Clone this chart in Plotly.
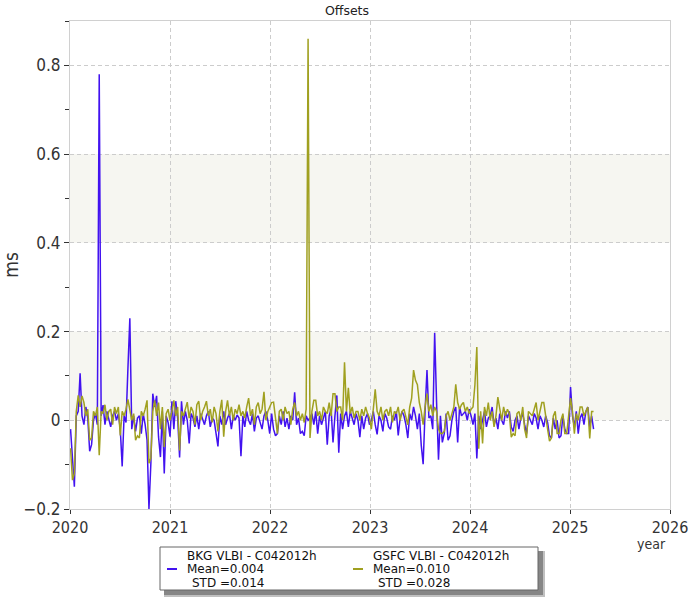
import pandas as pd
import plotly.graph_objects as go

# Session epochs (weekly sampling of the series), as decimal years
dates = pd.date_range("2020-01-03", periods=274, freq="7D")
years = [d.year + (d.dayofyear - 1) / (366 if d.is_leap_year else 365) for d in dates]

series_names = ["BKG VLBI - C042012h", "GSFC VLBI - C042012h"]
series_means = ["0.004", "0.010"]
series_stds = ["0.014", "0.028"]

bkg = [
    -0.02, -0.075, -0.15, 0.01, 0.02, 0.106, 0.01, -0.01, 0.03, 0.005,
    -0.07, -0.055, 0.0, 0.015, -0.01, 0.78, 0.01, 0.034, -0.01, 0.02,
    0.005, -0.015, 0.01, 0.02, 0.0, 0.015, -0.02, -0.104, 0.01, -0.005,
    0.117, 0.23, -0.02, 0.01, -0.025, 0.005, 0.01, -0.03, 0.015, -0.01,
    -0.045, -0.2, -0.097, 0.06, 0.03, 0.055, -0.037, -0.083, 0.02, -0.12,
    0.01, -0.005, -0.037, 0.043, -0.02, 0.043, 0.005, -0.084, 0.043, -0.01,
    0.02, 0.0, -0.052, 0.015, 0.005, -0.015, 0.01, -0.02, 0.015, 0.0,
    -0.01, 0.01, 0.02, -0.015, 0.005, 0.0, -0.03, -0.059, 0.01, -0.01,
    0.02, -0.01, 0.005, 0.015, -0.02, 0.01, 0.0, 0.012, 0.005, -0.081,
    0.01, -0.015, 0.02, 0.0, -0.01, 0.015, -0.025, 0.005, 0.01, -0.005,
    -0.02, 0.01, 0.02, 0.0, -0.03, 0.015, -0.02, -0.035, -0.03, 0.01,
    -0.01, 0.02, -0.015, 0.005, -0.02, 0.01, 0.0, 0.063, -0.01, 0.005,
    -0.03, -0.025, -0.035, 0.01, 0.0, 0.005, 0.015, -0.01, 0.02, -0.03,
    0.01, -0.01, 0.005, 0.02, -0.055, 0.01, 0.025, -0.05, 0.01, 0.056,
    -0.073, 0.015, -0.02, 0.01, 0.02, -0.015, 0.02, 0.005, -0.01, 0.015,
    0.0, -0.038, 0.01, -0.02, 0.005, 0.015, -0.01, 0.0, 0.02, -0.01,
    -0.032, 0.01, 0.0, -0.025, 0.015, 0.005, -0.015, -0.02, 0.01, 0.0,
    0.02, -0.034, 0.005, 0.02, 0.01, -0.01, -0.04, 0.015, 0.0, 0.03,
    0.01, -0.02, 0.015, -0.056, -0.099, 0.02, 0.113, 0.005, 0.01, -0.02,
    0.197, 0.04, -0.089, 0.01, -0.05, -0.03, 0.015, -0.045, -0.035, 0.0,
    0.02, 0.03, -0.05, 0.03, 0.01, 0.015, 0.02, 0.0, 0.025, 0.01,
    -0.01, 0.015, -0.086, 0.01, -0.02, 0.0, 0.02, -0.015, 0.005, 0.01,
    0.03, -0.01, 0.005, -0.02, 0.015, 0.0, -0.01, 0.02, 0.005, 0.02,
    -0.015, -0.025, 0.0, 0.01, -0.02, 0.005, 0.015, -0.01, -0.03, 0.01,
    0.0, -0.01, 0.015, 0.005, -0.02, 0.01, 0.0, -0.015, 0.01, -0.005,
    -0.035, -0.04, 0.005, -0.02, 0.0, -0.04, -0.035, 0.01, -0.02, -0.03,
    -0.03, 0.075, 0.01, -0.015, 0.02, -0.03, 0.005, 0.015, -0.01, 0.02,
    0.03, -0.015, 0.01, -0.02,
]

gsfc = [
    -0.063, -0.135, -0.12, 0.02, 0.056, 0.03, 0.055, 0.04, 0.01, 0.025,
    -0.045, -0.04, 0.02, 0.01, 0.03, -0.079, 0.02, 0.015, 0.035, 0.0,
    0.02, 0.025, -0.01, 0.03, 0.015, 0.03, -0.034, 0.02, 0.01, 0.025,
    0.047, 0.02, 0.0, 0.015, -0.045, -0.035, -0.04, 0.02, 0.01, 0.025,
    0.045, -0.097, -0.085, 0.02, 0.045, 0.01, 0.04, -0.02, 0.03, -0.06,
    0.015, 0.025, 0.0, 0.02, 0.045, 0.01, 0.03, -0.068, 0.02, 0.01,
    0.025, 0.041, 0.005, 0.03, 0.02, -0.01, 0.035, 0.043, 0.0, 0.02,
    0.03, 0.043, 0.01, 0.025, -0.005, 0.03, 0.015, -0.025, 0.02, 0.046,
    -0.037, 0.02, 0.045, 0.01, 0.03, 0.0, 0.025, 0.015, 0.035, 0.01,
    0.02, 0.005, 0.03, 0.05, 0.01, 0.025, -0.01, 0.03, 0.04, 0.015,
    0.025, 0.064, 0.0, 0.02, 0.03, 0.04, 0.041, 0.01, -0.03, 0.02,
    0.025, 0.0, 0.03, 0.015, 0.02, -0.01, 0.025, 0.04, 0.01, 0.02,
    0.0, 0.015, -0.005, 0.025, 0.86, -0.04, 0.02, 0.045, 0.045, 0.01,
    0.02, 0.0, 0.03, 0.02, 0.015, 0.04, 0.01, 0.06, 0.06, 0.02,
    0.03, 0.03, 0.0, 0.131, 0.02, 0.073, 0.015, 0.03, 0.005, 0.02,
    0.02, 0.0, 0.025, 0.01, 0.03, 0.015, 0.005, -0.02, 0.025, 0.07,
    0.02, 0.01, 0.03, 0.0, 0.02, 0.025, 0.01, 0.03, -0.005, 0.02,
    0.015, 0.03, 0.0, 0.02, 0.025, 0.01, -0.01, 0.03, 0.05, 0.113,
    0.09, 0.08, 0.04, 0.02, -0.01, 0.03, 0.06, 0.02, 0.035, 0.01,
    0.03, 0.02, -0.02, -0.03, -0.03, -0.025, 0.01, 0.02, 0.0, 0.015,
    0.03, 0.081, 0.04, 0.025, 0.035, 0.04, 0.02, 0.03, 0.015, 0.025,
    0.03, 0.08, 0.165, -0.064, 0.02, -0.052, 0.03, 0.01, 0.04, 0.0,
    0.02, -0.015, 0.01, 0.052, 0.02, 0.0, 0.03, 0.01, 0.025, 0.015,
    -0.038, -0.03, -0.035, 0.015, 0.02, 0.0, 0.03, -0.02, -0.04, 0.02,
    0.015, 0.01, 0.025, 0.04, 0.0, 0.02, 0.04, 0.04, 0.015, -0.02,
    -0.047, -0.04, 0.01, 0.02, -0.03, -0.03, 0.0, 0.015, -0.03, -0.03,
    0.01, 0.05, 0.02, -0.03, 0.015, 0.0, 0.03, 0.03, 0.01, 0.02,
    0.03, -0.041, 0.02, 0.02,
]

band_ranges = [(0.0, 0.2), (0.4, 0.6)]
colors = ["#4212f0", "#a0a020"]
FONT = "DejaVu Sans Condensed, DejaVu Sans, sans-serif"
LFONT = "DejaVu Sans, Verdana, sans-serif"

fig = go.Figure()
for name, vals, c in zip(series_names, [bkg, gsfc], colors):
    fig.add_trace(go.Scatter(
        x=years, y=vals, mode="lines",
        line=dict(color=c, width=1.5), name=name, showlegend=False,
    ))

for lo, hi in band_ranges:
    fig.add_shape(type="rect", xref="paper", yref="y", x0=0, x1=1, y0=lo, y1=hi,
                  fillcolor="#f6f6f1", line_width=0, layer="below")

# --- legend box (paper coords: plot x 70..670 px, y 21..509 px) ---
def px(x):
    return (x - 70) / 600.0

def py(y):
    return (509 - y) / 488.0

# soft shadow (two layers)
fig.add_shape(type="rect", xref="paper", yref="paper",
              x0=px(164), x1=px(545), y0=py(551), y1=py(597),
              fillcolor="rgba(140,140,140,0.55)", line_width=0, layer="above")
fig.add_shape(type="rect", xref="paper", yref="paper",
              x0=px(164), x1=px(543), y0=py(551), y1=py(595),
              fillcolor="rgba(110,110,110,0.7)", line_width=0, layer="above")
# box
fig.add_shape(type="rect", xref="paper", yref="paper",
              x0=px(160), x1=px(538), y0=py(547), y1=py(590),
              fillcolor="white", line=dict(color="#666", width=1), layer="above")

col_x = [(167, 186), (353, 372)]
for (sx, tx), name, m, s, c in zip(col_x, series_names, series_means, series_stds, colors):
    fig.add_shape(type="line", xref="paper", yref="paper",
                  x0=px(sx), x1=px(sx + 10), y0=py(569), y1=py(569),
                  line=dict(color=c, width=2), layer="above")
    for text, yy, dx in [(name, 555.5, 0), (f"Mean={m}", 569, 0), (f"STD ={s}", 582.5, 5)]:
        fig.add_annotation(text=text, xref="paper", yref="paper",
                           x=px(tx + dx), y=py(yy), xanchor="left", yanchor="middle",
                           showarrow=False, borderpad=0,
                           font=dict(family=LFONT, size=12, color="#111"))

fig.add_annotation(text="year", xref="paper", yref="paper", x=px(651), y=py(544),
                   showarrow=False, xanchor="center", yanchor="middle", borderpad=0,
                   font=dict(family=FONT, size=14, color="#333"))

fig.update_layout(
    width=700, height=600,
    margin=dict(l=70, r=30, t=21, b=91, autoexpand=False),
    plot_bgcolor="white", paper_bgcolor="white",
    title=dict(text="Offsets", x=347 / 700, xref="container", y=1 - 11 / 600, yref="container",
               xanchor="center", yanchor="middle",
               font=dict(family=LFONT, size=12.5, color="#222")),
    font=dict(family=FONT, color="#333"),
    showlegend=False,
)
fig.update_xaxes(range=[2020, 2026], dtick=1, tick0=2020, tickformat="d",
                 showgrid=True, gridcolor="#cccccc", griddash="4px,3px", gridwidth=1,
                 showline=True, linecolor="#d0d0d0", mirror=True,
                 ticks="outside", ticklen=4, tickcolor="#333", automargin=False,
                 tickfont=dict(family=FONT, size=16, color="#333"), zeroline=False)
fig.update_yaxes(range=[-0.2, 0.9], dtick=0.2, tick0=0,
                 showgrid=True, gridcolor="#cccccc", griddash="4px,3px", gridwidth=1,
                 showline=True, linecolor="#d0d0d0", mirror=True,
                 ticks="outside", ticklen=5, tickcolor="#333", automargin=False,
                 minor=dict(dtick=0.1, tick0=0, ticks="outside", ticklen=4, tickcolor="#333", showgrid=False),
                 tickfont=dict(family=FONT, size=17, color="#333"), zeroline=False,
                 title=dict(text="ms", font=dict(family=FONT, size=19, color="#333"), standoff=6))

fig.write_html("out.html", config={"displayModeBar": False},
               post_script="document.body.style.margin='0';")
